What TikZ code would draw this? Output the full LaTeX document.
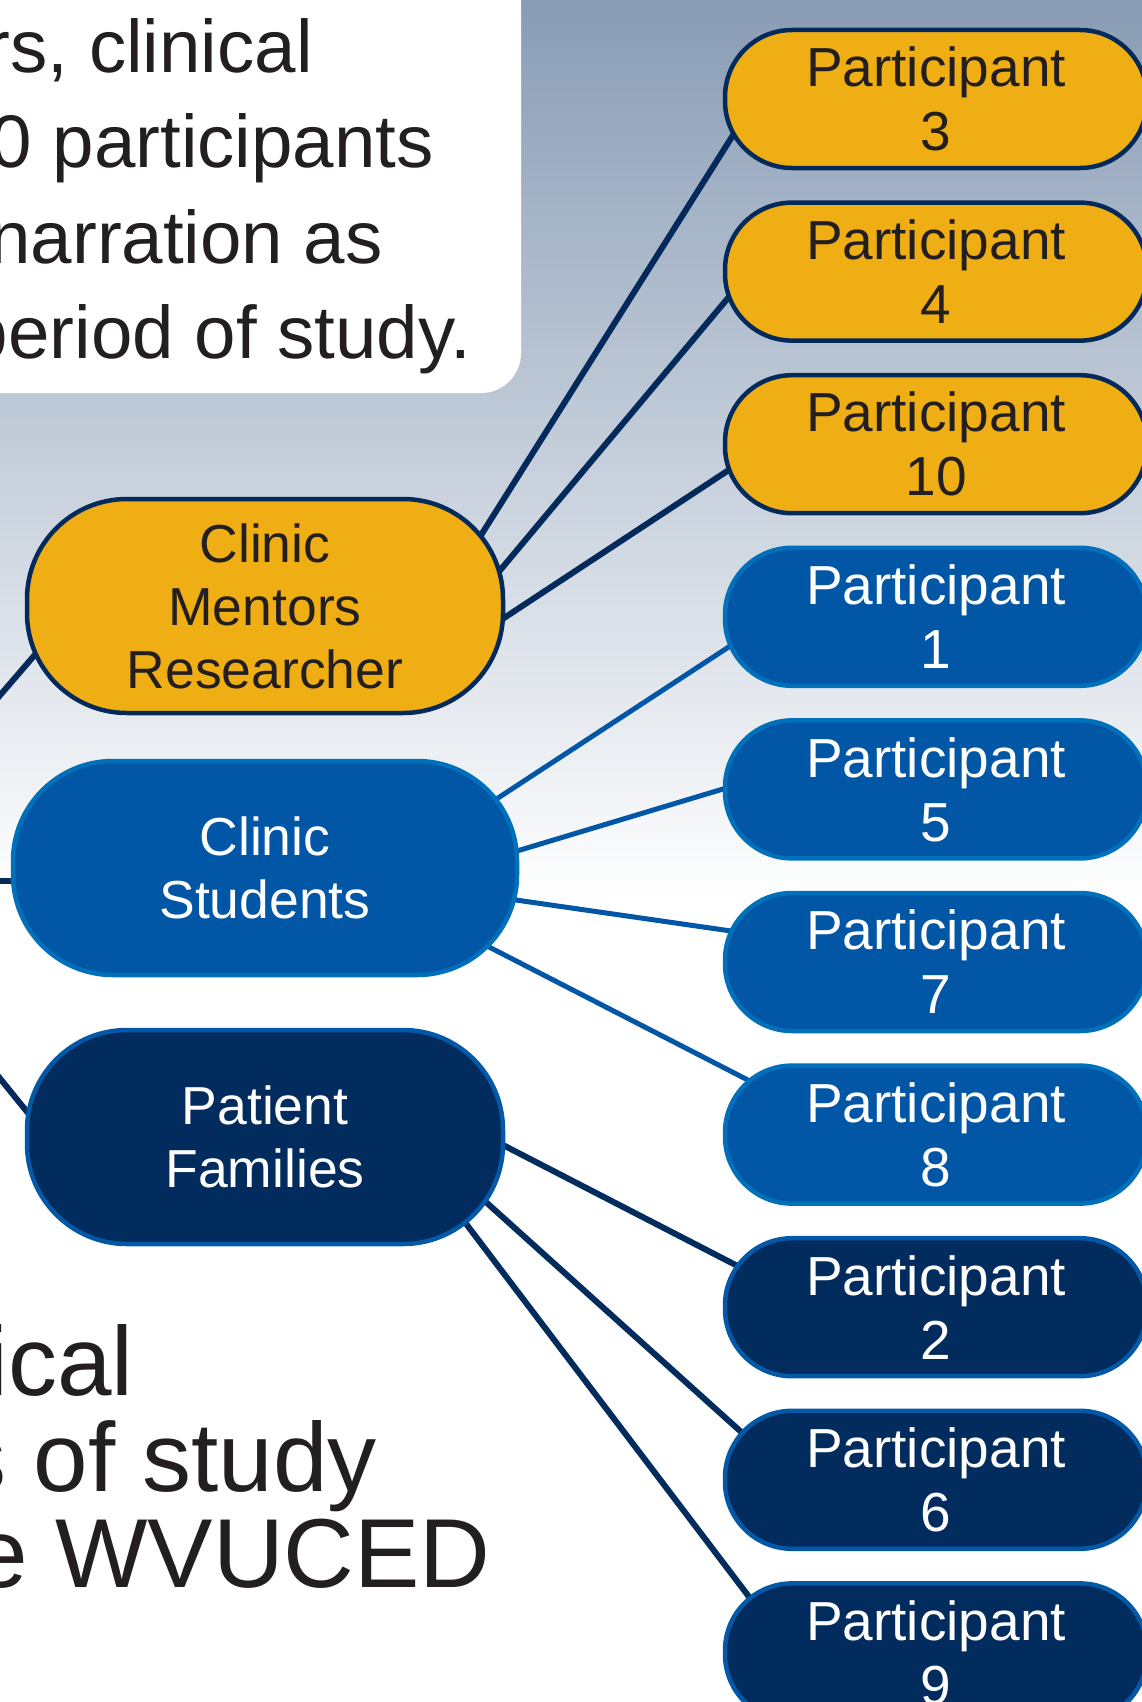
\documentclass[tikz,border=0pt]{standalone}
\usepackage{fontspec}
\setmainfont{Liberation Sans}
\usetikzlibrary{calc}

\definecolor{gold}{RGB}{239,174,20}
\definecolor{navy}{RGB}{4,42,92}
\definecolor{royal}{RGB}{2,86,166}
\definecolor{royaledge}{RGB}{0,112,186}
\definecolor{deepnavy}{RGB}{2,43,94}
\definecolor{deepedge}{RGB}{4,88,168}
\definecolor{ink}{RGB}{35,31,32}
\definecolor{skytop}{RGB}{137,156,181}

\pgfdeclarelayer{back}
\pgfdeclarelayer{links}
\pgfsetlayers{back,links,main}

\begin{document}
\begin{tikzpicture}[x=1pt,y=-1pt,
  groupbox/.style={rectangle, rounded corners=100pt, line width=4.5pt,
    inner sep=0pt, minimum width=476pt, minimum height=214pt, align=center,
    font=\fontsize{53.5}{63}\selectfont},
  mentorbox/.style={groupbox, fill=gold, draw=navy, text=ink},
  studentbox/.style={groupbox, fill=royal, draw=royaledge, text=white, minimum width=504pt},
  familybox/.style={groupbox, fill=deepnavy, draw=deepedge, text=white},
  partbox/.style={rectangle, rounded corners=67pt, line width=4.5pt,
    inner sep=0pt, minimum width=422pt, minimum height=138pt, align=center,
    font=\fontsize{55}{64}\selectfont},
  mentorpart/.style={partbox, fill=gold, draw=navy, text=ink},
  studentpart/.style={partbox, fill=royal, draw=royaledge, text=white},
  familypart/.style={partbox, fill=deepnavy, draw=deepedge, text=white},
  link/.style={line width=6pt, shorten <=-4pt, shorten >=-4pt},
  navylink/.style={link, draw=navy},
  royallink/.style={link, draw=royal, line width=5pt},
  deeplink/.style={link, draw=deepnavy},
  bodytext/.style={anchor=base east, inner sep=0pt, text=ink},
]
\useasboundingbox (0,0) rectangle (1142,1702);
\clip (0,0) rectangle (1142,1702);

% backdrop, framed note and running text
\begin{pgfonlayer}{back}
  \fill[white] (0,0) rectangle (1142,1702);
  \shade[top color=skytop, bottom color=white] (0,0) rectangle (1142,900);
  \fill[white, rounded corners=40pt] (-80,-80) rectangle (521,393);
  \begin{scope}[every node/.style={bodytext, font=\fontsize{74.5}{94}\selectfont}]
    \node (n1) at (313,72)  {rs, clinical};
    \node (n2) at (434,167) {0 participants};
    \node (n3) at (383,263) {narration as};
    \node (n4) at (471,358) {period of study.};
  \end{scope}
  \begin{scope}[every node/.style={bodytext, font=\fontsize{98}{96}\selectfont}]
    \node (m1) at (134,1395) {ical};
    \node (m2) at (377,1491) {s of study};
    \node (m3) at (491,1587) {e WVUCED};
  \end{scope}
\end{pgfonlayer}

% group nodes
\node[mentorbox]  (cmr) at (265,606)  {Clinic\\Mentors\\Researcher};
\node[studentbox] (cs)  at (265,868)  {Clinic\\Students};
\node[familybox]  (pf)  at (265,1137) {Patient\\Families};

% participant nodes
\node[mentorpart]  (p3)  at (936,99)     {Participant\\3};
\node[mentorpart]  (p4)  at (936,271.6)  {Participant\\4};
\node[mentorpart]  (p10) at (936,444.2)  {Participant\\10};
\node[studentpart] (p1)  at (936,616.8)  {Participant\\1};
\node[studentpart] (p5)  at (936,789.4)  {Participant\\5};
\node[studentpart] (p7)  at (936,962)    {Participant\\7};
\node[studentpart] (p8)  at (936,1134.6) {Participant\\8};
\node[familypart]  (p2)  at (936,1307.2) {Participant\\2};
\node[familypart]  (p6)  at (936,1479.8) {Participant\\6};
\node[familypart]  (p9)  at (936,1652.4) {Participant\\9};

\coordinate (hub) at (-160,881);

% connectors
\begin{pgfonlayer}{links}
  \draw[navylink] (hub) -- ([shift={(-232,51)}]cmr.center);
  \draw[navylink] (hub) -- ([shift={(-251,13)}]cs.center);
  \draw[navylink] (hub) -- ([shift={(-237,-24)}]pf.center);

  \draw[navylink] ([shift={(218,-74)}]cmr.center) -- ([shift={(-201,33)}]p3.center);
  \draw[navylink] ([shift={(237,-38)}]cmr.center) -- ([shift={(-206,24)}]p4.center);
  \draw[navylink] ([shift={(239,12)}]cmr.center)  -- ([shift={(-206,25)}]p10.center);

  \draw[royallink] ([shift={(233,-70)}]cs.center) -- ([shift={(-204,28)}]p1.center);
  \draw[royallink] ([shift={(252,-17)}]cs.center) -- ([shift={(-211,-1)}]p5.center);
  \draw[royallink] ([shift={(251,32)}]cs.center)  -- ([shift={(-205,-31)}]p7.center);
  \draw[royallink] ([shift={(226,80)}]cs.center)  -- ([shift={(-185,-53)}]p8.center);

  \draw[deeplink] ([shift={(238,8)}]pf.center)  -- ([shift={(-198,-41)}]p2.center);
  \draw[deeplink] ([shift={(222,66)}]pf.center) -- ([shift={(-195,-48)}]p6.center);
  \draw[deeplink] ([shift={(202,88)}]pf.center) -- ([shift={(-185,-53)}]p9.center);
\end{pgfonlayer}
\end{tikzpicture}
\end{document}
